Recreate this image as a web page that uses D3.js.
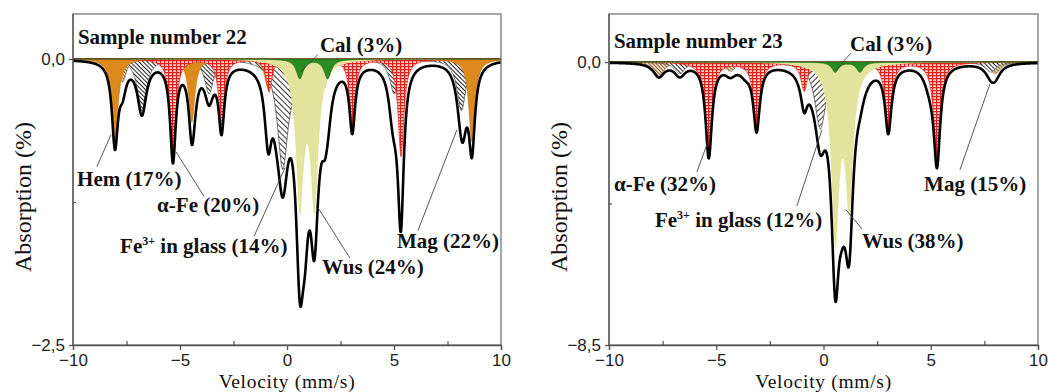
<!DOCTYPE html>
<html>
<head>
<meta charset="utf-8">
<script src="https://cdn.jsdelivr.net/npm/d3@7"></script>
<style>
  body { margin: 0; background: #fff; }
  svg text { font-family: "Liberation Serif", "Times New Roman", serif; fill: #111; }
  .tick text { font-family: "Liberation Sans", Arial, sans-serif; font-size: 17px; fill: #222; }
  .lbl { font-weight: bold; font-size: 21px; }
</style>
</head>
<body>
<svg id="chart" width="1049" height="392"></svg>
<script>
// velocity axis ticks (mm/s)
const xTicks = [-10, -5, 0, 5, 10];
const xMinorTicks = [-7.5, -2.5, 2.5, 7.5];

// Sample 22: line positions (mm/s), line depths (% absorption)
const s22AFePos = [-5.33, -3.06, -0.84, 0.84, 3.05, 5.33];
const s22AFeDepth = [0.85, 0.57, 0.28, 0.28, 0.57, 0.85];
const s22HemPos = [-8.04, -4.45, -0.91, 1.75, 5.3, 8.64];
const s22HemDepth = [0.72, 0.55, 0.24, 0.24, 0.5, 0.72];
const s22MagAPos = [-7.68, -4.34, -0.98, 1.54, 4.9, 8.24];
const s22MagADepth = [0.2, 0.15, 0.07, 0.07, 0.15, 0.2];
const s22MagBPos = [-6.78, -3.64, -0.49, 1.87, 5.01, 8.15];
const s22MagBDepth = [0.45, 0.3, 0.15, 0.15, 0.3, 0.45];
const s22GlassPos = [-0.2, 0.85];
const s22GlassDepth = [0.92, 0.6];
const s22WusPos = [0.6, 1.28];
const s22WusDepth = [1.25, 1.25];
const s22CalPos = [0.6, 1.9];
const s22CalDepth = [0.17, 0.17];

// Sample 23
const s23AFePos = [-5.35, -3.12, -0.9, 0.82, 3.02, 5.29];
const s23AFeDepth = [2.8, 1.95, 0.85, 0.85, 1.95, 2.9];
const s23MagAPos = [-7.68, -4.34, -0.98, 1.54, 4.9, 8.0];
const s23MagADepth = [0.4, 0.27, 0.13, 0.13, 0.27, 0.35];
const s23MagBPos = [-6.7, -3.64, -0.49, 1.87, 5.01, 7.8];
const s23MagBDepth = [0.35, 0.23, 0.12, 0.12, 0.23, 0.3];
const s23GlassPos = [-0.15, 0.95];
const s23GlassDepth = [1.9, 1.7];
const s23WusPos = [0.55, 1.2];
const s23WusDepth = [5.2, 4.1];
const s23CalPos = [0.55, 1.7];
const s23CalDepth = [0.3, 0.3];

const velocities = d3.range(-10, 10.005, 0.01);
const lorentz = (pos, depth, w) => v => d3.sum(pos, (p, i) => depth[i] / (1 + ((v - p) / w) ** 2));

const plotTop = 14, plotBottom = 345;

const panels = [
  {
    title: 'Sample number 22', left: 73, right: 501, yMin: -2.5, yTop: 0.3934,
    comps: [
      { key: 'magA', f: lorentz(s22MagAPos, s22MagADepth, 0.2), fill: 'url(#hatch-brown)', stroke: '#8a5a24' },
      { key: 'magB', f: lorentz(s22MagBPos, s22MagBDepth, 0.25), fill: 'url(#hatch-mag)', stroke: '#444' },
      { key: 'glass', f: lorentz(s22GlassPos, s22GlassDepth, 0.3), fill: 'url(#hatch-glass0)', stroke: '#333' },
      { key: 'hem', f: lorentz(s22HemPos, s22HemDepth, 0.17), fill: '#dc8a1e', stroke: '#c97812' },
      { key: 'afe', f: lorentz(s22AFePos, s22AFeDepth, 0.16), fill: 'url(#grid-afe)', stroke: '#e3231b' },
      { key: 'wus', f: lorentz(s22WusPos, s22WusDepth, 0.22), fill: '#e2e39c', stroke: 'none' },
      { key: 'cal', f: lorentz(s22CalPos, s22CalDepth, 0.2), fill: '#2b8a22', stroke: '#1d6e18' }
    ],
    notes: [
      { text: 'Cal (3%)', at: [1.54, 0.06], from: [1.45, 0.04], to: [0.65, -0.11] },
      { text: 'Hem (17%)', at: [-9.81, -1.11], from: [-8.88, -0.94], to: [-8.22, -0.66] },
      { text: 'α-Fe (20%)', at: [-6.07, -1.34], from: [-3.88, -1.2], to: [-5.19, -0.81] },
      { text: ' in glass (14%)', fe3: true, at: [-7.8, -1.7], from: [-1.54, -1.55], to: [-0.09, -0.95] },
      { text: 'Wus (24%)', at: [1.64, -1.88], from: [2.94, -1.74], to: [1.45, -1.3] },
      { text: 'Mag (22%)', at: [5.14, -1.65], from: [6.12, -1.5], to: [7.94, -0.62] }
    ],
    titleAt: [-9.77, 0.13]
  },
  {
    title: 'Sample number 23', left: 609, right: 1038, yMin: -8.5, yTop: 1.4417,
    comps: [
      { key: 'magA', f: lorentz(s23MagAPos, s23MagADepth, 0.3), fill: 'url(#hatch-brown)', stroke: '#8a5a24' },
      { key: 'magB', f: lorentz(s23MagBPos, s23MagBDepth, 0.3), fill: 'url(#hatch-mag)', stroke: '#444' },
      { key: 'glass', f: lorentz(s23GlassPos, s23GlassDepth, 0.3), fill: 'url(#hatch-glass1)', stroke: '#333' },
      { key: 'afe', f: lorentz(s23AFePos, s23AFeDepth, 0.18), fill: 'url(#grid-afe)', stroke: '#e3231b' },
      { key: 'wus', f: lorentz(s23WusPos, s23WusDepth, 0.22), fill: '#e2e39c', stroke: 'none' },
      { key: 'cal', f: lorentz(s23CalPos, s23CalDepth, 0.2), fill: '#2b8a22', stroke: '#1d6e18' }
    ],
    notes: [
      { text: 'Cal (3%)', at: [1.24, 0.33], from: [1.28, 0.27], to: [0.58, -0.24] },
      { text: 'α-Fe (32%)', at: [-9.77, -3.87], from: [-5.9, -3.3], to: [-5.39, -2.4] },
      { text: 'Mag (15%)', at: [4.69, -3.87], from: [6.36, -3.24], to: [7.76, -0.66] },
      { text: ' in glass (12%)', fe3: true, at: [-7.86, -4.95], from: [-1.24, -4.32], to: [-0.07, -2.04] },
      { text: 'Wus (38%)', at: [1.79, -5.59], from: [1.79, -5.01], to: [1.05, -4.44] }
    ],
    titleAt: [-9.77, 0.42]
  }
];

const svg = d3.select('#chart');
const defs = svg.append('defs');

// alpha-Fe: red grid
const grid = defs.append('pattern').attr('id', 'grid-afe')
  .attr('patternUnits', 'userSpaceOnUse').attr('width', 4).attr('height', 3);
grid.append('rect').attr('width', 4).attr('height', 3).attr('fill', '#fbd9d4');
grid.append('path').attr('d', 'M0,0.6H4').attr('stroke', '#e3231b').attr('stroke-width', 1.3);
grid.append('path').attr('d', 'M0.6,0V3').attr('stroke', '#e3231b').attr('stroke-width', 1.2);

function hatch(id, size, angle, color, sw, bg) {
  const p = defs.append('pattern').attr('id', id)
    .attr('patternUnits', 'userSpaceOnUse').attr('width', size).attr('height', size)
    .attr('patternTransform', `rotate(${angle})`);
  p.append('rect').attr('width', size).attr('height', size).attr('fill', bg);
  p.append('line').attr('x1', 0.5).attr('y1', 0).attr('x2', 0.5).attr('y2', size)
    .attr('stroke', color).attr('stroke-width', sw);
}
hatch('hatch-mag', 3, -45, '#222', 1, '#fff');
hatch('hatch-brown', 2.6, -45, '#8a5a24', 0.9, '#ecdcc4');
hatch('hatch-glass0', 4, -45, '#222', 0.9, '#fff');
hatch('hatch-glass1', 4, 45, '#222', 0.9, '#fff');

const fmt = d => (d < 0 ? '\u2212' : '') + Math.abs(d);
const fmtY = d => (d < 0 ? '\u2212' : '') + Math.abs(d).toFixed(1).replace('.', ',');

panels.forEach(p => {
  const x = d3.scaleLinear().domain([-10, 10]).range([p.left, p.right]);
  const y = d3.scaleLinear().domain([p.yMin, p.yTop]).range([plotBottom, plotTop]);
  const g = svg.append('g');

  // components
  p.comps.forEach(c => {
    const area = d3.area()
      .x(v => x(v))
      .y0(y(0))
      .y1(v => y(-c.f(v)));
    g.append('path')
      .datum(velocities)
      .attr('d', area)
      .attr('fill', c.fill)
      .attr('stroke', c.stroke)
      .attr('stroke-width', 0.7);
  });

  // envelope = sum of all components
  const total = v => d3.sum(p.comps, c => c.f(v));
  g.append('path')
    .datum(velocities)
    .attr('d', d3.line().x(v => x(v)).y(v => y(-total(v))))
    .attr('fill', 'none')
    .attr('stroke', '#000')
    .attr('stroke-width', 2.6)
    .attr('stroke-linejoin', 'round');

  // frame
  g.append('rect')
    .attr('x', p.left).attr('y', plotTop)
    .attr('width', p.right - p.left).attr('height', plotBottom - plotTop)
    .attr('fill', 'none').attr('stroke', '#777').attr('stroke-width', 1.3);

  // x axis
  const xa = g.append('g').attr('transform', `translate(0,${plotBottom})`)
    .call(d3.axisBottom(x).tickValues(xTicks).tickSize(5).tickPadding(4).tickFormat(fmt));
  xa.selectAll('path, line').attr('stroke', '#555').attr('stroke-width', 1.3);
  const xm = g.append('g').attr('transform', `translate(0,${plotBottom})`)
    .call(d3.axisBottom(x).tickValues(xMinorTicks).tickSize(-4).tickFormat(''));
  xm.select('.domain').remove();
  xm.selectAll('line').attr('stroke', '#555').attr('stroke-width', 1.2);

  // y axis
  const ya = g.append('g').attr('transform', `translate(${p.left},0)`)
    .call(d3.axisLeft(y).tickValues([p.yMin, 0]).tickSize(4).tickPadding(4).tickFormat(fmtY));
  ya.select('.domain').attr('d', `M0,${plotTop}V${plotBottom}`);
  ya.selectAll('path, line').attr('stroke', '#555').attr('stroke-width', 1.3);
  const ym = g.append('g').attr('transform', `translate(${p.left},0)`)
    .call(d3.axisLeft(y).tickValues([p.yMin / 2]).tickSize(-3).tickFormat(''));
  ym.select('.domain').remove();
  ym.selectAll('line').attr('stroke', '#555').attr('stroke-width', 1.2);

  // axis titles
  g.append('text')
    .attr('x', (p.left + p.right) / 2).attr('y', 387.5)
    .attr('text-anchor', 'middle').attr('font-size', 19.5).attr('letter-spacing', 0.7)
    .attr('fill', '#222')
    .text('Velocity (mm/s)');
  g.append('text')
    .attr('transform', `translate(${p.left - 42},197) rotate(-90)`)
    .attr('text-anchor', 'middle').attr('font-size', 24).attr('fill', '#222')
    .text('Absorption (%)');

  // title
  g.append('text').attr('class', 'lbl')
    .attr('x', x(p.titleAt[0])).attr('y', y(p.titleAt[1]))
    .text(p.title);

  // component labels with leader lines
  p.notes.forEach(n => {
    g.append('line')
      .attr('x1', x(n.from[0])).attr('y1', y(n.from[1]))
      .attr('x2', x(n.to[0])).attr('y2', y(n.to[1]))
      .attr('stroke', '#444').attr('stroke-width', 0.9);
    const t = g.append('text').attr('class', 'lbl')
      .attr('x', x(n.at[0])).attr('y', y(n.at[1]));
    if (n.fe3) {
      t.append('tspan').text('Fe');
      t.append('tspan').attr('dy', -8).attr('font-size', 12).text('3+');
      t.append('tspan').attr('dy', 8).text(n.text);
    } else {
      t.text(n.text);
    }
  });
});
</script>
</body>
</html>
